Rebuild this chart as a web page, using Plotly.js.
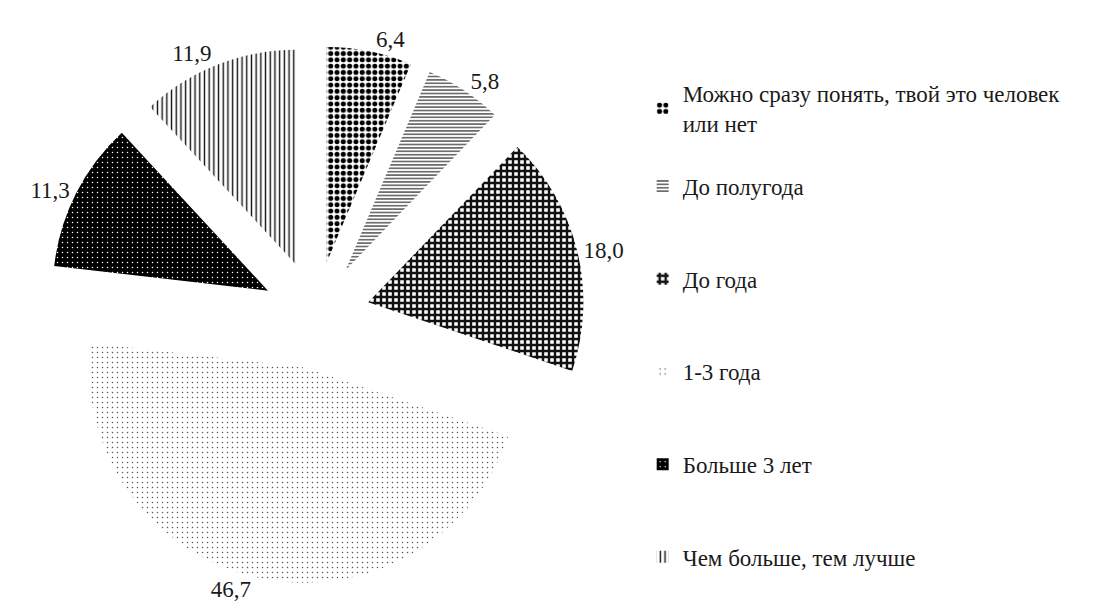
<!DOCTYPE html>
<html>
<head>
<meta charset="utf-8">
<script src="https://cdn.plot.ly/plotly-3.0.1.min.js"></script>
<style>
  html, body { margin: 0; padding: 0; background: #ffffff; }
  #chart { width: 1110px; height: 612px; }
</style>
</head>
<body>
<div id="chart"></div>
<script>
// ---- data ----
const categories = [
  "Можно сразу понять, твой это человек<br>или нет",
  "До полугода",
  "До года",
  "1-3 года",
  "Больше 3 лет",
  "Чем больше, тем лучше"
];
const values = [6.4, 5.8, 18.0, 46.7, 11.3, 11.9];

// ---- styles ----
const patShapes   = [".", "-", "+", ".", ".", "|"];
const patFg       = ["#000000", "#2e2e2e", "#111111", "#555555", "#ffffff", "#111111"];
const patBg       = ["#ffffff", "#ffffff", "#ffffff", "#ffffff", "#000000", "#ffffff"];
const patSize     = [6.3, 3.4, 6, 5, 5, 4.7];
const patSolidity = [0.5, 0.35, 0.65, 0.07, 0.07, 0.3];

// pad single-line legend entries with blank lines to mimic the spacing
const legendLabels = categories.map(c => c.indexOf("<br>") >= 0 ? c : " <br>" + c + "<br> ");

const trace = {
  type: "pie",
  labels: legendLabels,
  values: values,
  sort: false,
  direction: "clockwise",
  rotation: 0,
  pull: values.map(() => 0.25),
  texttemplate: "%{value:.1f}",
  textposition: "outside",
  outsidetextfont: { family: "Liberation Serif, Times New Roman, serif", size: 23, color: "#1a1a1a" },
  hoverinfo: "label+value",
  marker: {
    colors: patBg,
    line: { width: 0 },
    pattern: {
      shape: patShapes,
      fgcolor: patFg,
      bgcolor: patBg,
      size: patSize,
      solidity: patSolidity,
      fillmode: "replace"
    }
  },
  domain: { x: [0.0423, 0.527], y: [0.0458, 0.9248] }
};

const layout = {
  width: 1110,
  height: 612,
  margin: { l: 0, r: 0, t: 0, b: 0, autoexpand: false },
  paper_bgcolor: "#ffffff",
  separators: ", ",
  showlegend: true,
  font: { family: "Liberation Serif, Times New Roman, serif", size: 23, color: "#1a1a1a" },
  legend: {
    x: 0.579,
    xanchor: "left",
    y: 0.8825,
    yanchor: "top",
    bgcolor: "rgba(0,0,0,0)",
    itemwidth: 30,
    font: { family: "Liberation Serif, Times New Roman, serif", size: 23, color: "#1a1a1a" }
  }
};

Plotly.newPlot("chart", [trace], layout, { displayModeBar: false, staticPlot: true });
</script>
</body>
</html>
